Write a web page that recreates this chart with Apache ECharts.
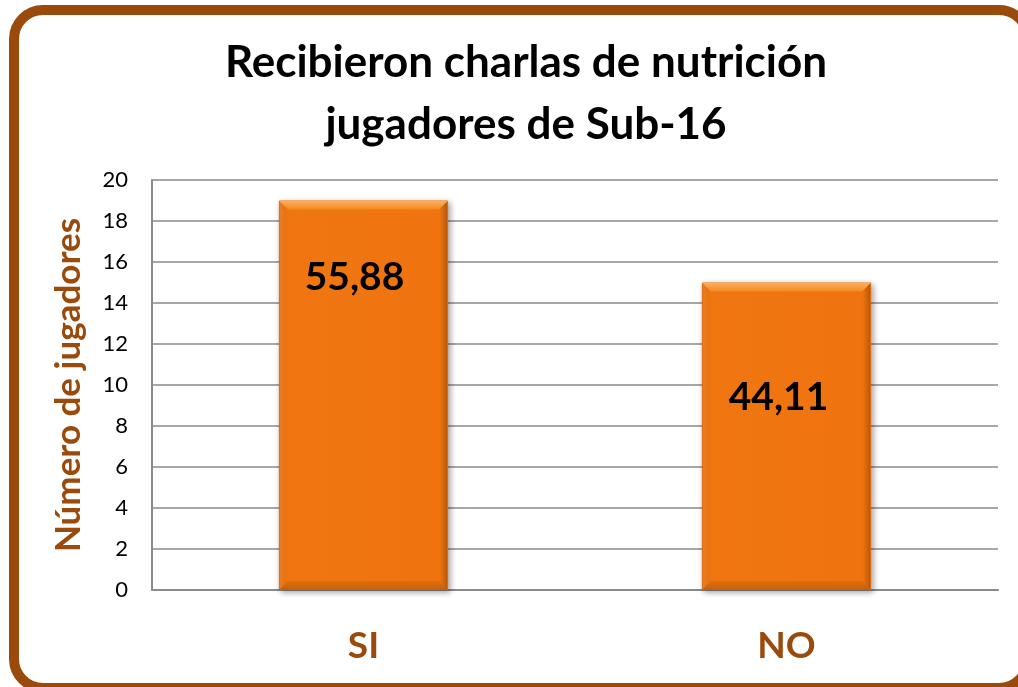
<!DOCTYPE html>
<html>
<head>
<meta charset="utf-8">
<script src="https://cdn.jsdelivr.net/npm/echarts@6/dist/echarts.min.js"></script>
<style>
  html, body { margin: 0; padding: 0; background: #ffffff; overflow: hidden; }
  #frame {
    position: absolute; left: 9px; top: 5px; width: 1004px; height: 668px;
    border: 10px solid #9a4a0b; border-radius: 34px; background: #ffffff;
  }
  #chart { position: absolute; left: 0; top: 0; width: 1018px; height: 687px; }
</style>
</head>
<body>
<div id="frame"></div>
<div id="chart"></div>
<script>
// Categories, player counts and the percentage shown on each bar
const categories = ['SI', 'NO'];
const players = [19, 15];
const percentLabels = ['55,88', '44,11'];
const yTicks = { min: 0, max: 20, interval: 2 };

const brown = '#9a4a0b';
const font = 'Lato, "Open Sans", sans-serif';

// per-bar label placement inside the column
const labelOffsets = [[-9, 52], [-8, 90]];

const chart = echarts.init(document.getElementById('chart'), null, { renderer: 'canvas' });

chart.setOption({
  backgroundColor: 'transparent',
  title: {
    text: 'Recibieron charlas de nutrición\njugadores de Sub-16',
    left: 521, top: 27, textAlign: 'center',
    textStyle: { fontFamily: font, fontWeight: 'bold', fontSize: 44, lineHeight: 62, color: '#000000' }
  },
  grid: { left: 152, right: 20, top: 180, bottom: 97, containLabel: false },
  xAxis: {
    type: 'category',
    data: categories,
    axisLine: { show: true, lineStyle: { color: '#8a8a8a', width: 2 } },
    axisTick: { show: false },
    axisLabel: { margin: 38, fontFamily: font, fontWeight: 'bold', fontSize: 37, color: brown }
  },
  yAxis: {
    type: 'value',
    min: yTicks.min, max: yTicks.max, interval: yTicks.interval,
    name: 'Número de jugadores',
    nameLocation: 'middle', nameGap: 66, nameRotate: 90,
    nameTextStyle: { fontFamily: font, fontWeight: 'bold', fontSize: 35, color: brown },
    axisLine: { show: true, lineStyle: { color: '#8a8a8a', width: 2 } },
    axisTick: { show: false },
    axisLabel: { margin: 24, fontFamily: font, fontSize: 22, color: '#000000' },
    splitLine: { show: true, lineStyle: { color: '#8a8a8a', width: 1.5 } }
  },
  series: [{
    type: 'bar',
    barWidth: '40%',
    data: players.map((v, i) => ({
      value: v,
      label: {
        show: true,
        position: 'insideTop',
        offset: labelOffsets[i],
        formatter: percentLabels[i],
        fontFamily: font, fontWeight: 'bold', fontSize: 39, color: '#000000'
      }
    })),
    itemStyle: {
      color: new echarts.graphic.LinearGradient(0, 0, 1, 0, [
        { offset: 0, color: '#f4862a' },
        { offset: 0.04, color: '#f07611' },
        { offset: 0.95, color: '#ef7410' },
        { offset: 1, color: '#b9590c' }
      ]),
      borderColor: '#e06a0c', borderWidth: 1,
      shadowColor: 'rgba(0,0,0,0.35)', shadowBlur: 6, shadowOffsetX: 2, shadowOffsetY: 2
    }
  }, {
    // bevel highlights along the top and bottom of each column
    type: 'custom',
    data: players.map((v, i) => [i, v]),
    z: 3,
    silent: true,
    renderItem: function (params, api) {
      const top = api.coord([api.value(0), api.value(1)]);
      const base = api.coord([api.value(0), 0]);
      const w = api.size([1, 0])[0] * 0.4;
      const x0 = top[0] - w / 2, x1 = top[0] + w / 2;
      const b = 9;
      return {
        type: 'group',
        children: [
          { type: 'polygon', shape: { points: [[x0, top[1]], [x1, top[1]], [x1 - b, top[1] + b], [x0 + b, top[1] + b]] },
            style: { fill: new echarts.graphic.LinearGradient(0, 0, 0, 1, [
              { offset: 0, color: '#fbb060' }, { offset: 1, color: '#f48a22' }]) } },
          { type: 'polygon', shape: { points: [[x0, base[1]], [x1, base[1]], [x1 - b, base[1] - b], [x0 + b, base[1] - b]] },
            style: { fill: new echarts.graphic.LinearGradient(0, 0, 0, 1, [
              { offset: 0, color: '#e26d0e' }, { offset: 1, color: '#c4600c' }]) } }
        ]
      };
    }
  }]
});
</script>
</body>
</html>
